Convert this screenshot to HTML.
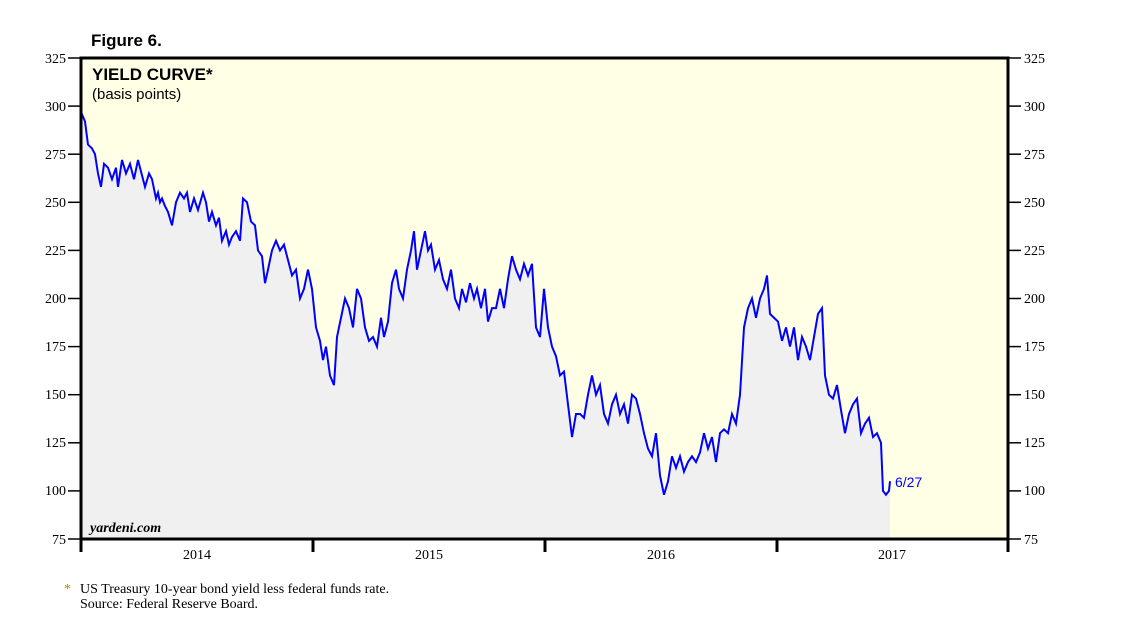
<!DOCTYPE html>
<html><head><meta charset="utf-8"><style>
body{margin:0;background:#fff;}
svg{display:block;}
</style></head><body>
<svg width="1138" height="621" xmlns="http://www.w3.org/2000/svg" font-family="Liberation Serif, serif">
<rect x="81" y="58" width="927" height="481" fill="#ffffe6"/>
<g transform="matrix(1 0 0 -1.924 0 683.3)">
<polygon fill="#f0f0f0" points="81,75 81,297 85,292 88,280 92,278 95,275 98,265 101,258 104,270 108,268 112,262 116,268 118,258 122,272 126,265 130,270 134,262 138,272 141,266 145,258 149,265 152,262 156,252 158,255 160,250 162,252 165,248 168,245 172,238 176,250 180,255 184,252 187,255 190,245 194,252 198,246 203,255 206,250 209,240 212,245 216,238 219,242 222,230 226,235 229,228 232,232 236,235 240,230 243,252 247,250 251,240 255,238 258,225 262,222 265,208 268,215 272,225 276,230 280,225 284,228 288,220 292,212 296,215 300,200 304,205 308,215 312,205 316,185 320,178 323,168 326,175 330,160 334,155 337,180 341,190 345,200 349,195 353,185 357,205 361,200 365,185 369,178 373,180 377,175 381,190 384,180 388,188 392,208 396,215 399,205 403,200 407,215 411,225 414,235 417,215 421,225 425,235 428,225 431,228 435,215 439,220 443,210 447,205 451,215 455,200 459,195 462,205 466,198 470,208 474,200 477,205 481,195 485,205 488,188 492,195 496,195 500,205 504,195 508,210 512,222 516,215 520,210 524,218 528,212 532,218 536,185 540,180 544,205 548,185 552,175 556,170 560,160 564,162 568,145 572,128 576,140 580,140 584,138 588,150 592,160 596,150 600,155 604,140 608,135 612,145 616,150 620,140 624,145 628,135 632,150 636,148 640,140 644,130 648,122 652,118 656,130 660,108 664,98 668,105 672,118 676,112 680,118 684,110 688,115 692,118 696,115 700,120 704,130 708,122 712,128 716,115 720,130 724,132 728,130 732,140 736,135 740,150 744,185 748,195 752,200 756,190 760,200 764,205 767,212 770,192 774,190 778,188 782,178 786,185 790,175 794,185 798,168 802,180 806,175 810,168 814,180 818,192 822,195 825,160 829,150 833,148 837,155 841,142 845,130 849,140 853,145 857,148 861,130 865,135 869,138 873,128 877,130 881,125 883,100 886,98 889,100 890,105 890,75"/>
<polyline fill="none" stroke="#0000ff" stroke-width="2" vector-effect="non-scaling-stroke" points="81,297 85,292 88,280 92,278 95,275 98,265 101,258 104,270 108,268 112,262 116,268 118,258 122,272 126,265 130,270 134,262 138,272 141,266 145,258 149,265 152,262 156,252 158,255 160,250 162,252 165,248 168,245 172,238 176,250 180,255 184,252 187,255 190,245 194,252 198,246 203,255 206,250 209,240 212,245 216,238 219,242 222,230 226,235 229,228 232,232 236,235 240,230 243,252 247,250 251,240 255,238 258,225 262,222 265,208 268,215 272,225 276,230 280,225 284,228 288,220 292,212 296,215 300,200 304,205 308,215 312,205 316,185 320,178 323,168 326,175 330,160 334,155 337,180 341,190 345,200 349,195 353,185 357,205 361,200 365,185 369,178 373,180 377,175 381,190 384,180 388,188 392,208 396,215 399,205 403,200 407,215 411,225 414,235 417,215 421,225 425,235 428,225 431,228 435,215 439,220 443,210 447,205 451,215 455,200 459,195 462,205 466,198 470,208 474,200 477,205 481,195 485,205 488,188 492,195 496,195 500,205 504,195 508,210 512,222 516,215 520,210 524,218 528,212 532,218 536,185 540,180 544,205 548,185 552,175 556,170 560,160 564,162 568,145 572,128 576,140 580,140 584,138 588,150 592,160 596,150 600,155 604,140 608,135 612,145 616,150 620,140 624,145 628,135 632,150 636,148 640,140 644,130 648,122 652,118 656,130 660,108 664,98 668,105 672,118 676,112 680,118 684,110 688,115 692,118 696,115 700,120 704,130 708,122 712,128 716,115 720,130 724,132 728,130 732,140 736,135 740,150 744,185 748,195 752,200 756,190 760,200 764,205 767,212 770,192 774,190 778,188 782,178 786,185 790,175 794,185 798,168 802,180 806,175 810,168 814,180 818,192 822,195 825,160 829,150 833,148 837,155 841,142 845,130 849,140 853,145 857,148 861,130 865,135 869,138 873,128 877,130 881,125 883,100 886,98 889,100 890,105"/>
</g>
<rect x="81" y="58" width="927" height="481" fill="none" stroke="#000" stroke-width="3"/>
<g stroke="#000" stroke-width="1.5">
<line x1="68" y1="58" x2="80" y2="58"/><line x1="68" y1="106.1" x2="80" y2="106.1"/><line x1="68" y1="154.2" x2="80" y2="154.2"/><line x1="68" y1="202.3" x2="80" y2="202.3"/><line x1="68" y1="250.4" x2="80" y2="250.4"/><line x1="68" y1="298.5" x2="80" y2="298.5"/><line x1="68" y1="346.6" x2="80" y2="346.6"/><line x1="68" y1="394.7" x2="80" y2="394.7"/><line x1="68" y1="442.8" x2="80" y2="442.8"/><line x1="68" y1="490.9" x2="80" y2="490.9"/><line x1="68" y1="539" x2="80" y2="539"/>
<line x1="1009" y1="58" x2="1021" y2="58"/><line x1="1009" y1="106.1" x2="1021" y2="106.1"/><line x1="1009" y1="154.2" x2="1021" y2="154.2"/><line x1="1009" y1="202.3" x2="1021" y2="202.3"/><line x1="1009" y1="250.4" x2="1021" y2="250.4"/><line x1="1009" y1="298.5" x2="1021" y2="298.5"/><line x1="1009" y1="346.6" x2="1021" y2="346.6"/><line x1="1009" y1="394.7" x2="1021" y2="394.7"/><line x1="1009" y1="442.8" x2="1021" y2="442.8"/><line x1="1009" y1="490.9" x2="1021" y2="490.9"/><line x1="1009" y1="539" x2="1021" y2="539"/>
</g>
<g stroke="#000" stroke-width="3">
<line x1="81" y1="539" x2="81" y2="552"/><line x1="313" y1="539" x2="313" y2="552"/><line x1="545" y1="539" x2="545" y2="552"/><line x1="777" y1="539" x2="777" y2="552"/><line x1="1008" y1="539" x2="1008" y2="552"/>
</g>
<g font-size="14" text-anchor="end" fill="#000">
<text x="66" y="63">325</text><text x="66" y="111">300</text><text x="66" y="159">275</text><text x="66" y="207">250</text><text x="66" y="255">225</text><text x="66" y="303">200</text><text x="66" y="351">175</text><text x="66" y="399">150</text><text x="66" y="447">125</text><text x="66" y="495">100</text><text x="66" y="544">75</text>
</g>
<g font-size="14" fill="#000">
<text x="1024" y="63">325</text><text x="1024" y="111">300</text><text x="1024" y="159">275</text><text x="1024" y="207">250</text><text x="1024" y="255">225</text><text x="1024" y="303">200</text><text x="1024" y="351">175</text><text x="1024" y="399">150</text><text x="1024" y="447">125</text><text x="1024" y="495">100</text><text x="1024" y="544">75</text>
</g>
<g font-size="14" text-anchor="middle" fill="#000">
<text x="197" y="559">2014</text><text x="429" y="559">2015</text><text x="661" y="559">2016</text><text x="892" y="559">2017</text>
</g>
<text x="91" y="46" font-family="Liberation Sans, sans-serif" font-weight="bold" font-size="17">Figure 6.</text>
<text x="92" y="80" font-family="Liberation Sans, sans-serif" font-weight="bold" font-size="17">YIELD CURVE*</text>
<text x="92" y="99" font-family="Liberation Sans, sans-serif" font-size="15">(basis points)</text>
<text x="895" y="487" font-family="Liberation Sans, sans-serif" font-size="14" fill="#0000ff">6/27</text>
<text x="90" y="532" font-size="14" font-weight="bold" font-style="italic">yardeni.com</text>
<text x="64" y="593" font-size="14" fill="#c08000">*</text>
<text x="80" y="593" font-size="14">US Treasury 10-year bond yield less federal funds rate.</text>
<text x="80" y="608" font-size="14">Source: Federal Reserve Board.</text>
</svg>
</body></html>
